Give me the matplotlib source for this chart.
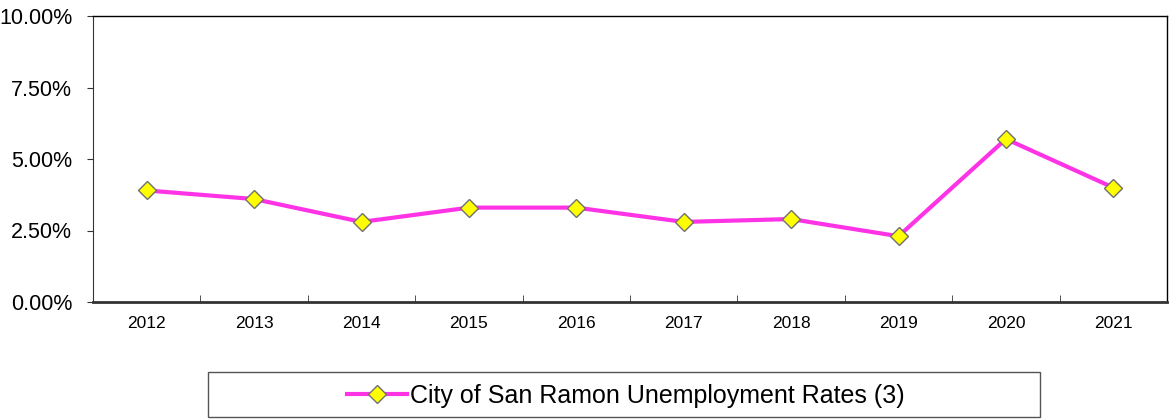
import matplotlib.pyplot as plt
from matplotlib.patches import Rectangle
from matplotlib.ticker import FuncFormatter, FixedLocator

plt.rcParams['font.family'] = ['Liberation Sans', 'DejaVu Sans']

years = ["2012", "2013", "2014", "2015", "2016", "2017", "2018", "2019", "2020", "2021"]
rates = [3.9, 3.6, 2.8, 3.3, 3.3, 2.8, 2.9, 2.3, 5.7, 4.0]
series_label = "City of San Ramon Unemployment Rates (3)"

fig = plt.figure(figsize=(11.7, 4.2), dpi=100)
ax = fig.add_axes([93/1170, 1-302/420, (1167-93)/1170, (302-16)/420])

x = list(range(len(years)))
ax.plot(x, rates, color='#FF33E6', lw=3, marker='D', markersize=9,
        markerfacecolor='#FFFF00', markeredgecolor='#707070', markeredgewidth=1,
        label=series_label)

ax.set_xlim(-0.5, len(years) - 0.5)
ax.set_ylim(0, 10)
ax.set_yticks([0, 2.5, 5, 7.5, 10])
ax.yaxis.set_major_formatter(FuncFormatter(lambda v, p: f"{v:.2f}%"))
ax.tick_params(axis='y', labelsize=15.5, length=4, direction='out', color='#333333', pad=11)

# category labels centred, tick marks between categories
ax.set_xticks(x)
ax.set_xticklabels(years)
ax.tick_params(axis='x', which='major', length=0, labelsize=12.5, pad=10)
ax.xaxis.set_minor_locator(FixedLocator([i + 0.5 for i in x[:-1]]))
ax.tick_params(axis='x', which='minor', length=5, direction='in', color='#333333')

for side in ['top', 'right']:
    ax.spines[side].set_linewidth(1)
ax.spines['bottom'].set_linewidth(2)
ax.spines['bottom'].set_color('#333333')
ax.spines['left'].set_color('#333333')

# legend box
fig.patches.append(Rectangle((208/1170, 1-417/420), 832/1170, 45/420,
                             transform=fig.transFigure, fill=False,
                             edgecolor='#555555', lw=1))
fig.legend(loc='center', bbox_to_anchor=(626/1170, 1-396/420), frameon=False,
           fontsize=18, handlelength=2.4, handletextpad=0.1)

fig.savefig('out.png', dpi=100)
